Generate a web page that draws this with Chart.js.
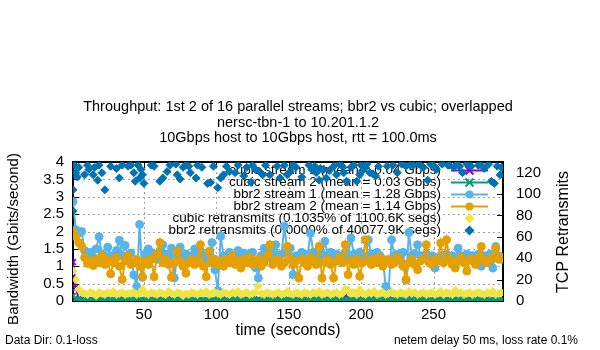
<!DOCTYPE html>
<html><head><meta charset="utf-8">
<script src="https://cdn.jsdelivr.net/npm/chart.js@4.4.0/dist/chart.umd.min.js"></script>
<style>html,body{margin:0;padding:0;background:#fff;}#c{display:block;}</style>
</head><body>
<canvas id="c" width="600" height="350"></canvas>
<script>
const FONT = '"Liberation Sans", Arial, sans-serif';

const titleLines = [
  'Throughput: 1st 2 of 16 parallel streams; bbr2 vs cubic; overlapped',
  'nersc-tbn-1 to 10.201.1.2',
  '10Gbps host to 10Gbps host, rtt = 100.0ms'
];
const xTitle = 'time (seconds)';
const yTitle = 'Bandwidth (Gbits/second)';
const y2Title = 'TCP Retransmits';
const footLeft = 'Data Dir: 0.1-loss';
const footRight = 'netem delay 50 ms, loss rate 0.1%';

const xTicks = [50, 100, 150, 200, 250];
const yTicks = [0, 0.5, 1, 1.5, 2, 2.5, 3, 3.5, 4];
const yTickLabels = ['0', '0.5', '1', '1.5', '2', '2.5', '3', '3.5', '4'];
const y2Ticks = [0, 20, 40, 60, 80, 100, 120];

const seriesNames = [
  'cubic stream 1 (mean = 0.04 Gbps)',
  'cubic stream 2 (mean = 0.03 Gbps)',
  'bbr2 stream 1 (mean = 1.28 Gbps)',
  'bbr2 stream 2 (mean = 1.14 Gbps)',
  'cubic retransmits (0.1035% of 1100.6K segs)',
  'bbr2 retransmits (0.0000% of 40077.9K segs)'
];

const times = [1,3,5,7,9,11,13,15,17,19,21,23,25,27,29,31,33,35,37,39,41,43,45,47,49,51,53,55,57,59,61,63,65,67,69,71,73,75,77,79,81,83,85,87,89,91,93,95,97,99,101,103,105,107,109,111,113,115,117,119,121,123,125,127,129,131,133,135,137,139,141,143,145,147,149,151,153,155,157,159,161,163,165,167,169,171,173,175,177,179,181,183,185,187,189,191,193,195,197,199,201,203,205,207,209,211,213,215,217,219,221,223,225,227,229,231,233,235,237,239,241,243,245,247,249,251,253,255,257,259,261,263,265,267,269,271,273,275,277,279,281,283,285,287,289,291,293,295,297];

const cubic1 = [1.12,0.38,0.06,0.03,0.02,0.04,0.03,0.01,0.02,0.04,
0.03,0.02,0.05,0.03,0.01,0.02,0.04,0.03,0.02,0.01,
0.03,0.00,0.01,0.02,0.04,0.03,0.02,0.05,0.03,0.02,
0.04,0.03,0.02,0.03,0.05,0.02,0.03,0.04,0.02,0.03,
0.02,0.01,0.03,0.00,0.01,0.00,0.02,0.01,0.00,0.02,
0.00,0.01,0.03,0.04,0.02,0.03,0.05,0.03,0.02,0.04,
0.03,0.02,0.04,0.03,0.05,0.02,0.03,0.04,0.02,0.03,
0.05,0.03,0.02,0.00,0.01,0.03,0.04,0.02,0.03,0.05,
0.02,0.03,0.04,0.03,0.02,0.04,0.03,0.05,0.02,0.03,
0.04,0.02,0.00,0.03,0.18,0.04,0.03,0.02,0.00,0.03,
0.04,0.02,0.03,0.05,0.02,0.03,0.04,0.02,0.03,0.05,
0.03,0.02,0.04,0.03,0.02,0.04,0.03,0.05,0.02,0.03,
0.04,0.00,0.01,0.00,0.02,0.03,0.04,0.02,0.03,0.05,
0.02,0.03,0.04,0.03,0.02,0.04,0.03,0.05,0.02,0.03,
0.04,0.02,0.03,0.05,0.02,0.03,0.04,0.02,0.03];

const cubic2 = [0.15,0.06,0.03,0.02,0.03,0.01,0.02,0.03,0.02,0.04,
0.02,0.03,0.01,0.02,0.04,0.03,0.02,0.01,0.03,0.02,
0.04,0.02,0.03,0.01,0.02,0.03,0.04,0.02,0.01,0.03,
0.02,0.04,0.03,0.02,0.01,0.03,0.02,0.04,0.03,0.02,
0.03,0.02,0.01,0.04,0.02,0.03,0.02,0.01,0.03,0.02,
0.04,0.03,0.02,0.01,0.03,0.02,0.04,0.02,0.03,0.01,
0.02,0.03,0.04,0.02,0.01,0.03,0.02,0.04,0.03,0.02,
0.01,0.03,0.02,0.04,0.03,0.02,0.01,0.03,0.02,0.04,
0.03,0.02,0.01,0.03,0.04,0.02,0.03,0.01,0.02,0.03,
0.04,0.02,0.03,0.01,0.02,0.04,0.03,0.02,0.01,0.03,
0.02,0.04,0.03,0.02,0.01,0.03,0.02,0.04,0.03,0.02,
0.03,0.01,0.02,0.04,0.03,0.02,0.01,0.03,0.02,0.04,
0.02,0.03,0.04,0.01,0.02,0.03,0.02,0.04,0.03,0.02,
0.01,0.03,0.02,0.04,0.03,0.02,0.01,0.03,0.02,0.04,
0.03,0.02,0.01,0.03,0.02,0.04,0.03,0.02,0.03];

const bbr1 = [2.86,2.05,1.95,2.0,1.45,1.3,1.4,1.25,1.5,1.85,
1.35,1.28,1.55,1.3,1.2,1.45,1.75,1.3,1.6,1.25,
1.38,0.75,0.42,2.2,0.68,1.35,1.5,1.4,1.3,1.2,
1.45,1.62,1.35,1.28,1.52,0.67,1.3,1.55,1.25,1.35,
1.3,1.22,1.5,1.3,1.45,1.3,1.2,1.38,1.68,0.9,
0.3,1.86,1.3,1.25,1.4,1.32,1.2,1.45,1.3,1.38,
1.25,1.35,1.4,0.96,0.66,1.3,1.52,1.35,1.25,1.4,
1.62,1.3,1.35,2.15,1.4,1.52,0.76,1.3,1.25,1.4,
1.35,1.3,1.95,1.4,1.3,1.25,1.35,1.72,1.3,1.4,
1.25,1.35,1.3,1.2,1.4,1.3,1.81,1.35,1.25,1.4,
1.3,1.2,1.76,1.35,1.25,1.4,1.3,1.2,0.42,0.28,
1.76,1.3,1.35,1.25,1.4,0.6,1.97,1.3,1.35,1.62,
1.3,1.25,1.35,1.2,1.3,0.95,1.25,1.3,1.2,1.35,
1.25,1.3,1.2,1.52,1.3,1.25,1.35,1.2,1.3,1.25,
1.35,1.0,1.3,1.25,1.35,0.95,1.57,1.3,1.2];

const bbr2 = [1.99,1.85,1.68,1.57,1.25,1.08,1.15,1.02,1.2,1.1,
1.3,1.05,1.18,0.78,1.1,1.25,1.0,0.62,1.15,1.3,
1.05,1.1,1.2,1.0,0.7,1.15,1.05,1.2,0.7,1.35,
1.68,1.1,1.2,1.05,0.68,1.1,1.43,1.15,1.0,0.8,
1.1,1.2,1.05,1.15,1.62,1.0,0.7,1.43,1.1,1.2,
1.05,1.15,1.0,1.2,1.1,1.3,1.05,1.15,0.95,1.2,
1.1,1.25,1.05,1.15,1.2,1.0,1.1,1.3,1.62,1.05,
1.15,1.2,1.0,1.1,1.57,1.2,1.05,1.15,0.66,1.2,
1.1,1.0,1.25,1.15,1.05,1.57,0.66,1.1,1.2,1.05,
0.66,1.15,1.25,1.1,1.62,0.76,1.15,1.05,1.2,0.71,
1.1,1.76,1.15,1.05,1.2,1.1,1.25,1.0,1.15,1.2,
1.05,1.1,1.25,1.15,1.0,0.62,1.1,1.2,1.05,0.9,
1.15,1.2,1.62,1.1,1.05,1.2,1.15,1.67,1.1,1.76,
1.2,1.05,0.95,1.15,1.25,1.1,0.86,1.2,1.15,1.05,
1.25,1.57,1.15,1.1,1.2,1.25,1.52,1.2,1.25];

const cubicRetx = [28,20,11,8,7,6,8,7,5,8,
7,6,8,7,9,6,7,8,6,7,
7,8,6,7,11,7,6,8,7,6,
8,7,6,9,7,6,8,7,5,7,
6,8,7,6,8,7,9,6,7,8,
7,6,8,7,6,8,7,9,6,7,
8,6,7,8,14,7,6,8,7,6,
7,8,6,7,9,7,6,8,7,6,
8,7,6,8,7,9,6,7,8,6,
7,8,6,7,11,10,7,8,6,10.5,
7,6,8,7,9,6,7,8,6,7,
8,7,6,8,7,6,9,7,8,6,
7,8,6,7,8,6,7,9,6,8,
7,6,10,7,8,6,7,8,6,7,
8,7,6,8,7,9,6,7,8];

const bbrRetxTimes = [1,1,2,3,4,5,9,11,12,15,
16,18,19,21,23,27,31,33,35,39,
41,43,44,46,47,48,49,50,55,57,
61,63,66,68,72,73,75,77,79,81,
82,86,87,90,94,96,98,101,103,105,
107,109,113,115,119,121,124,125,127,130,
132,134,137,142,144,147,149,151,153,155,
159,164,166,168,169,171,172,174,176,178,
181,183,185,187,188,190,193,195,197,199,
200,201,203,204,206,208,210,212,218,222,
225,228,231,234,236,240,243,246,248,250,
252,256,260,261,264,266,268,270,273,276,
281,282,285,288,290,292,294,296,297];
const bbrRetxValues = [104,84,127,120,116,125,118,127,123,118,
125,113,127,120,104,126,124,115,127,126,
127,120,112,127,115,123,118,110,127,126,
112,115,121,127,128,118,114,125,127,126,
120,115,127,125,110,111,126,106,115,118,
126,121,120,127,117,125,111,127,123,121,
118,127,118,126,115,127,118,121,127,125,
116,127,123,126,120,113,124,123,115,122,
126,118,128,126,120,112,125,127,112,118,
127,122,125,128,120,119,117,126,126,127,
120,128,126,127,127,128,125,113,128,127,
123,128,127,127,125,128,126,120,128,126,
127,128,124,128,112,110,126,118,125];

const colors = ['#9400d3', '#009e73', '#56b4e9', '#e69f00', '#f0e442', '#0072b2'];
const styles = ['crossRot', 'crossRot', 'circle', 'circle', 'rectRot', 'rectRot'];

function pts(xs, ys) { return xs.map((x, i) => ({x: x, y: ys[i]})); }

function lineSet(i, data, axis) {
  return {
    label: seriesNames[i], data: data, yAxisID: axis,
    borderColor: colors[i], backgroundColor: colors[i],
    borderWidth: 2, pointStyle: styles[i],
    pointRadius: 4,
    pointBorderWidth: styles[i] === 'crossRot' ? 2 : 1,
    pointBorderColor: colors[i], pointBackgroundColor: colors[i],
    showLine: true, tension: 0, order: 6 - i
  };
}
function pointSet(i, data, axis) {
  return {
    label: seriesNames[i], data: data, yAxisID: axis,
    borderColor: colors[i], backgroundColor: colors[i],
    showLine: false, pointStyle: 'rectRot', pointRadius: 4,
    pointBorderWidth: 1, pointBorderColor: colors[i], pointBackgroundColor: colors[i],
    order: 6 - i
  };
}

function drawMarker(ctx, style, color, x, y) {
  ctx.save();
  ctx.fillStyle = color; ctx.strokeStyle = color;
  if (style === 'circle') {
    ctx.beginPath(); ctx.arc(x, y, 4, 0, Math.PI * 2); ctx.fill();
  } else if (style === 'crossRot') {
    ctx.lineWidth = 2; ctx.beginPath();
    ctx.moveTo(x - 4, y - 4); ctx.lineTo(x + 4, y + 4);
    ctx.moveTo(x - 4, y + 4); ctx.lineTo(x + 4, y - 4); ctx.stroke();
  } else {
    ctx.beginPath(); ctx.moveTo(x, y - 5); ctx.lineTo(x + 5, y); ctx.lineTo(x, y + 5); ctx.lineTo(x - 5, y); ctx.closePath(); ctx.fill();
  }
  ctx.restore();
}

const gnuplotLook = {
  id: 'gnuplotLook',
  beforeDatasetsDraw(chart) {
    const {ctx, chartArea: a, scales} = chart;
    ctx.save();
    ctx.lineWidth = 1;
    ctx.strokeStyle = '#a0a0a0';
    ctx.setLineDash([2, 3]);
    ctx.beginPath();
    yTicks.forEach(v => {
      if (v <= 0 || v >= 4) return;
      const y = Math.round(scales.y.getPixelForValue(v)) + 0.5;
      ctx.moveTo(a.left, y); ctx.lineTo(a.right, y);
    });
    xTicks.forEach(v => {
      const x = Math.round(scales.x.getPixelForValue(v)) + 0.5;
      ctx.moveTo(x, a.top); ctx.lineTo(x, a.bottom);
    });
    ctx.stroke();
    ctx.setLineDash([]);
    ctx.strokeStyle = '#000';
    ctx.beginPath();
    yTicks.forEach(v => {
      const y = Math.round(scales.y.getPixelForValue(v)) + 0.5;
      ctx.moveTo(a.left, y); ctx.lineTo(a.left + 6, y);
    });
    y2Ticks.forEach(v => {
      const y = Math.round(scales.y2.getPixelForValue(v)) + 0.5;
      ctx.moveTo(a.right - 6, y); ctx.lineTo(a.right, y);
    });
    xTicks.forEach(v => {
      const x = Math.round(scales.x.getPixelForValue(v)) + 0.5;
      ctx.moveTo(x, a.bottom); ctx.lineTo(x, a.bottom - 6);
      ctx.moveTo(x, a.top); ctx.lineTo(x, a.top + 6);
    });
    ctx.stroke();
    ctx.lineWidth = 2;
    ctx.strokeRect(a.left, a.top, a.right - a.left, a.bottom - a.top);

    // key
    ctx.font = '13.5px ' + FONT;
    ctx.fillStyle = '#000';
    ctx.textAlign = 'right';
    ctx.textBaseline = 'middle';
    seriesNames.forEach((name, i) => {
      const y = 170.5 + i * 12;
      ctx.fillText(name, 441, y);
      if (i < 4) {
        ctx.strokeStyle = colors[i]; ctx.lineWidth = 2;
        ctx.beginPath(); ctx.moveTo(451, y); ctx.lineTo(488, y); ctx.stroke();
      }
      drawMarker(ctx, styles[i], colors[i], 469.5, y);
    });
    ctx.restore();
  },
  afterDraw(chart) {
    const ctx = chart.ctx;
    ctx.save();
    ctx.fillStyle = '#000';
    ctx.textAlign = 'center';
    ctx.textBaseline = 'middle';
    ctx.font = '14.5px ' + FONT;
    titleLines.forEach((t, i) => ctx.fillText(t, 298, 107 + i * 15.5));
    ctx.font = '16px ' + FONT;
    ctx.fillText(xTitle, 288, 331);
    ctx.save(); ctx.translate(564, 232); ctx.rotate(-Math.PI / 2); ctx.fillText(y2Title, 0, 0); ctx.restore();
    ctx.font = '15px ' + FONT;
    ctx.save(); ctx.translate(14, 239); ctx.rotate(-Math.PI / 2); ctx.fillText(yTitle, 0, 0); ctx.restore();
    ctx.font = '12px ' + FONT;
    ctx.textAlign = 'left';
    ctx.fillText(footLeft, 5, 341);
    ctx.textAlign = 'right';
    ctx.fillText(footRight, 578, 341);
    ctx.restore();
  }
};

new Chart(document.getElementById('c'), {
  type: 'line',
  data: {
    datasets: [
      lineSet(0, pts(times, cubic1), 'y'),
      lineSet(1, pts(times, cubic2), 'y'),
      lineSet(2, pts(times, bbr1), 'y'),
      lineSet(3, pts(times, bbr2), 'y'),
      pointSet(4, pts(times, cubicRetx), 'y2'),
      pointSet(5, pts(bbrRetxTimes, bbrRetxValues), 'y2')
    ]
  },
  options: {
    responsive: false, animation: false, devicePixelRatio: 1,
    layout: {padding: {top: 162, left: 0, right: 0, bottom: 0}},
    plugins: {legend: {display: false}, title: {display: false}, tooltip: {enabled: false}},
    scales: {
      x: {
        type: 'linear', min: 1, max: 298,
        afterBuildTicks: s => { s.ticks = xTicks.map(v => ({value: v})); },
        afterFit: s => { s.height = 49; },
        grid: {display: false, drawTicks: false}, border: {display: false},
        ticks: {font: {size: 15, family: FONT}, color: '#000', padding: 5, maxRotation: 0, autoSkip: false,
          callback: v => String(v)}
      },
      y: {
        type: 'linear', position: 'left', min: 0, max: 4,
        afterBuildTicks: s => { s.ticks = yTicks.map(v => ({value: v})); },
        afterFit: s => { s.width = 73; },
        grid: {display: false, drawTicks: false}, border: {display: false},
        ticks: {font: {size: 15, family: FONT}, color: '#000', padding: 9, autoSkip: false,
          callback: v => yTickLabels[yTicks.indexOf(v)]}
      },
      y2: {
        type: 'linear', position: 'right', min: 0, max: 130,
        afterBuildTicks: s => { s.ticks = y2Ticks.map(v => ({value: v})); },
        afterFit: s => { s.width = 97; },
        grid: {display: false, drawTicks: false}, border: {display: false},
        ticks: {font: {size: 15, family: FONT}, color: '#000', padding: 13, autoSkip: false,
          callback: v => String(v)}
      }
    }
  },
  plugins: [gnuplotLook]
});
</script>
</body></html>
